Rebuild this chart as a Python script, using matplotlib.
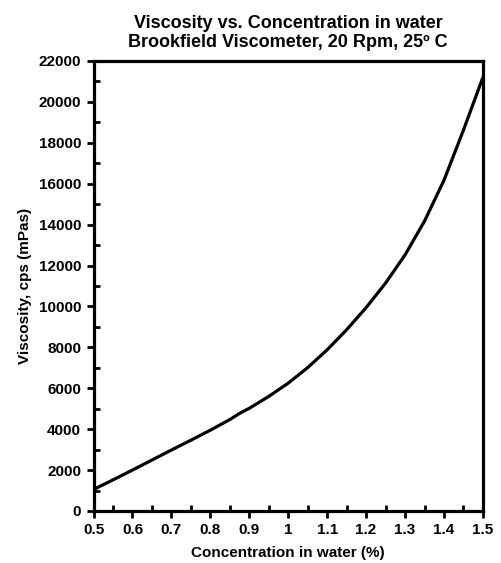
import numpy as np
import matplotlib
matplotlib.use("Agg")
import matplotlib.pyplot as plt
from matplotlib.ticker import MultipleLocator

plt.rcParams["font.family"] = ["Liberation Sans", "DejaVu Sans"]
plt.rcParams["font.weight"] = "bold"

# values
conc = [0.5, 0.55, 0.6, 0.65, 0.7, 0.75, 0.8, 0.85, 0.875, 0.9, 0.95, 1.0,
        1.05, 1.1, 1.15, 1.2, 1.25, 1.3, 1.35, 1.4, 1.45, 1.5]
visc = [1050, 1520, 2000, 2490, 2980, 3460, 3950, 4470, 4770, 5020, 5600, 6250,
        7010, 7880, 8860, 9940, 11140, 12520, 14170, 16170, 18620, 21200]

x_ticks = [0.5, 0.6, 0.7, 0.8, 0.9, 1.0, 1.1, 1.2, 1.3, 1.4, 1.5]
x_labels = ["0.5", "0.6", "0.7", "0.8", "0.9", "1", "1.1", "1.2", "1.3", "1.4", "1.5"]
y_ticks = list(range(0, 22001, 2000))

fig = plt.figure(figsize=(5.02, 5.63), dpi=100)
ax = fig.add_axes([0.1863, 0.0924, 0.7757, 0.7993])

ax.plot(conc, visc, color="black", lw=2.3, solid_capstyle="butt", solid_joinstyle="round")

ax.set_xlim(0.5, 1.5)
ax.set_ylim(0, 22000)
ax.set_xticks(x_ticks)
ax.set_xticklabels(x_labels)
ax.set_yticks(y_ticks)
ax.xaxis.set_minor_locator(MultipleLocator(0.05))
ax.yaxis.set_minor_locator(MultipleLocator(1000))

for s in ax.spines.values():
    s.set_linewidth(2.3)

ax.tick_params(which="major", direction="out", length=5, width=2, labelsize=11, pad=4)
ax.tick_params(which="minor", direction="in", length=4, width=2)

ax.set_xlabel("Concentration in water (%)", fontsize=11, fontweight="bold", labelpad=6)
ax.set_ylabel("Viscosity, cps (mPas)", fontsize=11, fontweight="bold", labelpad=5)
ax.set_title("Viscosity vs. Concentration in water\nBrookfield Viscometer, 20 Rpm, 25º C",
             fontsize=13, fontweight="bold", pad=10, linespacing=1.15)

fig.savefig("out.png", dpi=100)
